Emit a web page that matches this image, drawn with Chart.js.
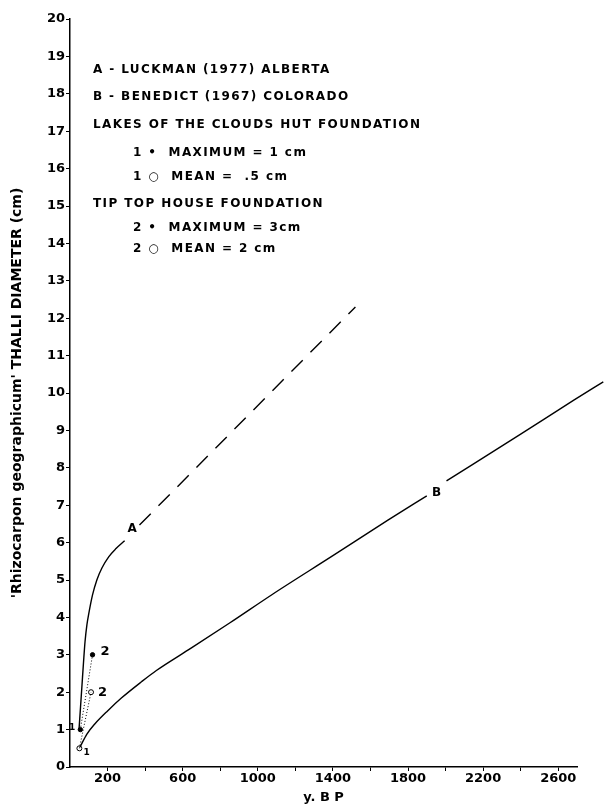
<!DOCTYPE html>
<html>
<head>
<meta charset="utf-8">
<script src="https://cdn.jsdelivr.net/npm/chart.js@4"></script>
<style>
  body { margin: 0; background: #fff; }
</style>
</head>
<body>
<canvas id="chartCanvas" width="604" height="808"></canvas>
<script>
// curve A (Luckman 1977, Alberta) - solid part, then the dashed extension
const curveA = [[48, 1.0], [56, 1.6], [64, 2.2], [72, 2.8], [80, 3.35], [90, 3.8], [100, 4.1],
    [120, 4.6], [143, 5.0], [170, 5.32], [206, 5.62], [245, 5.84], [291, 6.05]];
const curveADashed = [[370, 6.47], [1520, 12.3]];
// curve B (Benedict 1967, Colorado), gap where the label sits
const curveB = [[53, 0.53], [90, 0.88], [132, 1.15], [200, 1.5], [275, 1.85], [381, 2.28],
    [460, 2.58], [630, 3.13], [850, 3.85], [1079, 4.62], [1400, 5.65], [1693, 6.6], [1900, 7.25],
    [1952, null], [2005, 7.65], [2400, 8.9], [2683, 9.81], [2840, 10.3]];
// site measurements [years BP, cm]
const lakesMax = [55, 1.0];
const lakesMean = [50, 0.5];
const tipTopMax = [120, 3.0];
const tipTopMean = [112, 2.0];

const xTicks = [200, 600, 1000, 1400, 1800, 2200, 2600];
const legendLines = [
    'A - LUCKMAN (1977) ALBERTA',
    'B - BENEDICT (1967) COLORADO',
    'LAKES OF THE CLOUDS HUT FOUNDATION',
    '    1 \u2022  MAXIMUM = 1 cm',
    '    1 \u25CB  MEAN =  .5 cm',
    'TIP TOP HOUSE FOUNDATION',
    '    2 \u2022  MAXIMUM = 3cm',
    '    2 \u25CB  MEAN = 2 cm'
];

const toXY = arr => arr.map(p => ({ x: p[0], y: p[1] }));
const FONT = '"DejaVu Sans", sans-serif';

const textPlugin = {
    id: 'texts',
    afterDatasetsDraw(chart) {
        const ctx = chart.ctx;
        const xs = chart.scales.x, ys = chart.scales.y;
        const px = v => xs.getPixelForValue(v), py = v => ys.getPixelForValue(v);
        ctx.save();
        ctx.fillStyle = '#000';
        ctx.font = 'bold 12px ' + FONT;
        ctx.letterSpacing = '1.4px';
        ctx.textBaseline = 'middle';
        ctx.textAlign = 'left';
        const lineY = [70, 97, 125, 153, 177, 204, 228, 249];
        legendLines.forEach((t, i) => {
            const indent = t.startsWith('    ') ? 40 : 0;
            ctx.fillText(t.trim(), 93 + indent, lineY[i]);
        });

        ctx.font = 'bold 12px ' + FONT;
        ctx.letterSpacing = '0px';
        ctx.textAlign = 'center';
        // A label in the gap between solid and dashed parts
        const a0 = curveA[curveA.length - 1], a1 = curveADashed[0];
        ctx.fillText('A', px((a0[0] + a1[0]) / 2), py((a0[1] + a1[1]) / 2) - 4);
        // B label in the gap of curve B
        const gi = curveB.findIndex(p => p[1] === null);
        const b0 = curveB[gi - 1], b1 = curveB[gi + 1];
        ctx.fillText('B', px(curveB[gi][0]), py((b0[1] + b1[1]) / 2) + 5);

        // point labels
        ctx.font = 'bold 13px ' + FONT;
        ctx.textAlign = 'left';
        ctx.fillText('2', px(tipTopMax[0]) + 8, py(tipTopMax[1]) - 3);
        ctx.fillText('2', px(tipTopMean[0]) + 7, py(tipTopMean[1]));
        ctx.font = 'bold 9px ' + FONT;
        ctx.textAlign = 'right';
        ctx.fillText('1', px(lakesMax[0]) - 5, py(lakesMax[1]) - 2);
        ctx.textAlign = 'left';
        ctx.fillText('1', px(lakesMean[0]) + 4, py(lakesMean[1]) + 4);
        ctx.restore();
    }
};

const ctx = document.getElementById('chartCanvas').getContext('2d');
new Chart(ctx, {
    type: 'line',
    data: {
        datasets: [
            {
                label: 'A',
                data: toXY(curveA),
                borderColor: '#000',
                borderWidth: 1.4,
                pointRadius: 0,
                cubicInterpolationMode: 'monotone'
            },
            {
                label: 'A dashed',
                data: toXY(curveADashed),
                borderColor: '#000',
                borderWidth: 1.4,
                borderDash: [16, 11],
                pointRadius: 0
            },
            {
                label: 'B',
                data: toXY(curveB),
                borderColor: '#000',
                borderWidth: 1.4,
                pointRadius: 0,
                cubicInterpolationMode: 'monotone',
                spanGaps: false,
                clip: false
            },
            {
                label: 'max link',
                data: toXY([lakesMax, tipTopMax]),
                borderColor: '#000',
                borderWidth: 1,
                borderDash: [1, 2],
                pointRadius: 0
            },
            {
                label: 'mean link',
                data: toXY([lakesMean, tipTopMean]),
                borderColor: '#000',
                borderWidth: 1,
                borderDash: [1, 2],
                pointRadius: 0
            },
            {
                label: 'maximum',
                data: toXY([lakesMax, tipTopMax]),
                showLine: false,
                pointRadius: 2.2,
                pointBackgroundColor: '#000',
                pointBorderColor: '#000'
            },
            {
                label: 'mean',
                data: toXY([lakesMean, tipTopMean]),
                showLine: false,
                pointRadius: 2.5,
                pointBackgroundColor: '#fff',
                pointBorderColor: '#000',
                pointBorderWidth: 1
            }
        ]
    },
    options: {
        responsive: false,
        animation: false,
        layout: { padding: { top: 19, right: 27, left: 0, bottom: 0 } },
        plugins: {
            legend: { display: false },
            tooltip: { enabled: false }
        },
        scales: {
            x: {
                type: 'linear',
                min: 0,
                max: 2700,
                afterFit: s => { s.height = 41; },
                afterBuildTicks: s => {
                    s.ticks = [];
                    for (let v = 200; v <= 2600; v += 200) s.ticks.push({ value: v });
                },
                ticks: {
                    autoSkip: false,
                    maxRotation: 0,
                    color: '#000',
                    padding: 0,
                    font: { family: FONT, size: 13, weight: 'bold' },
                    callback: v => (xTicks.includes(v) ? v : '')
                },
                grid: { drawOnChartArea: false, tickLength: 4, color: '#000' },
                border: { color: '#000', width: 1.5 },
                title: {
                    display: true,
                    text: 'y. B P',
                    color: '#000',
                    font: { family: FONT, size: 13, weight: 'bold' },
                    padding: { top: 0, bottom: 3 }
                }
            },
            y: {
                min: 0,
                max: 20,
                afterFit: s => { s.width = 70; },
                ticks: {
                    stepSize: 1,
                    color: '#000',
                    padding: 1,
                    font: { family: FONT, size: 13, weight: 'bold' }
                },
                grid: { drawOnChartArea: false, tickLength: 4, color: '#000' },
                border: { color: '#000', width: 1.5 },
                title: {
                    display: true,
                    text: "'Rhizocarpon geographicum' THALLI DIAMETER (cm)",
                    color: '#000',
                    font: { family: FONT, size: 14, weight: 'bold' },
                    padding: { top: 9, bottom: 0 }
                }
            }
        }
    },
    plugins: [textPlugin]
});
</script>
</body>
</html>
